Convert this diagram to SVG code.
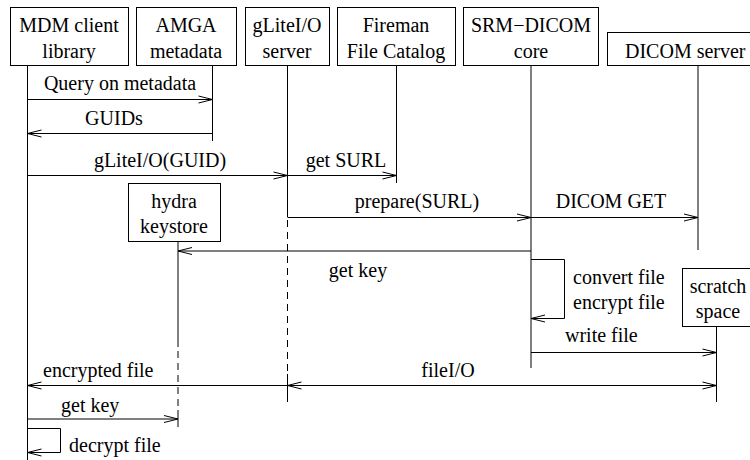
<svg xmlns="http://www.w3.org/2000/svg" width="750" height="460" viewBox="0 0 750 460" font-family="Liberation Serif, Times New Roman, DejaVu Serif, serif" font-size="20">
<style>
text{font-family:'Liberation Serif','Times New Roman','DejaVu Serif',serif;font-size:20px;fill:#000}
.c{text-anchor:middle}
.box{fill:#fff;stroke:#000;stroke-width:1}
.life{stroke:#000;stroke-width:1;fill:none}
.dash{stroke:#000;stroke-width:1;fill:none;stroke-dasharray:7 5}
.msg{stroke:#000;stroke-width:1;fill:none;marker-end:url(#ah)}
.both{stroke:#000;stroke-width:1;fill:none;marker-end:url(#ah);marker-start:url(#ah)}
</style>
<defs>
<marker id="ah" viewBox="-15 -5 16 10" refX="0" refY="0" markerWidth="16" markerHeight="10" markerUnits="userSpaceOnUse" orient="auto-start-reverse">
<path d="M-14,-3.5 L0,0 L-14,3.5" fill="none" stroke="#000" stroke-width="1"/>
</marker>
</defs>
<rect width="750" height="460" fill="#fff"/>

<g id="mdm">
<line class="life" x1="27.5" y1="66" x2="27.5" y2="460"/>
<rect class="box" x="10.5" y="7.5" width="118" height="58"/>
<text class="c" x="69" y="32">MDM client</text>
<text class="c" x="69" y="58">library</text>
</g>
<g id="amga">
<line class="life" x1="212.5" y1="66" x2="212.5" y2="141"/>
<rect class="box" x="136.5" y="7.5" width="100" height="58"/>
<text class="c" x="186" y="32">AMGA</text>
<text class="c" x="186" y="58">metadata</text>
</g>
<g id="glite">
<line class="life" x1="287.5" y1="66" x2="287.5" y2="217"/>
<line class="dash" x1="287.5" y1="220" x2="287.5" y2="372"/>
<line class="life" x1="287.5" y1="374" x2="287.5" y2="402"/>
<rect class="box" x="245.5" y="7.5" width="84" height="58"/>
<text class="c" x="287" y="32">gLiteI/O</text>
<text class="c" x="287" y="58">server</text>
</g>
<g id="fireman">
<line class="life" x1="396.5" y1="66" x2="396.5" y2="183"/>
<rect class="box" x="337.5" y="7.5" width="118" height="58"/>
<text class="c" x="396" y="32">Fireman</text>
<text class="c" x="396" y="58">File Catalog</text>
</g>
<g id="srm">
<line class="life" x1="531" y1="66" x2="531" y2="368"/>
<rect class="box" x="463.5" y="7.5" width="135" height="58"/>
<text class="c" x="531" y="32">SRM−DICOM</text>
<text class="c" x="531" y="58">core</text>
</g>
<g id="dicom">
<line class="life" x1="698" y1="66" x2="698" y2="250"/>
<rect class="box" x="607.5" y="32.5" width="160" height="33"/>
<text x="625" y="58">DICOM server</text>
</g>
<g id="hydra">
<line class="life" x1="178" y1="242" x2="178" y2="347"/>
<line class="dash" x1="178" y1="351" x2="178" y2="408"/>
<line class="life" x1="178" y1="410" x2="178" y2="427"/>
<rect class="box" x="128.5" y="183.5" width="92" height="58"/>
<text class="c" x="174" y="208">hydra</text>
<text class="c" x="174" y="233">keystore</text>
</g>
<g id="scratch">
<line class="life" x1="716.5" y1="327" x2="716.5" y2="402"/>
<rect class="box" x="682.5" y="268.5" width="80" height="58"/>
<text class="c" x="718" y="293">scratch</text>
<text class="c" x="718" y="318">space</text>
</g>

<g id="connectors">
<line class="msg" x1="27.5" y1="99.5" x2="212.5" y2="99.5"/>
<text class="c" x="120" y="90">Query on metadata</text>
<line class="msg" x1="212.5" y1="133.5" x2="27.5" y2="133.5"/>
<text class="c" x="114" y="125">GUIDs</text>
<line class="msg" x1="27.5" y1="175.5" x2="287.5" y2="175.5"/>
<text class="c" x="160" y="167">gLiteI/O(GUID)</text>
<line class="msg" x1="287.5" y1="175.5" x2="396.5" y2="175.5"/>
<text class="c" x="346" y="167">get SURL</text>
<line class="msg" x1="287.5" y1="217.5" x2="531" y2="217.5"/>
<text class="c" x="417" y="208">prepare(SURL)</text>
<line class="msg" x1="531" y1="217.5" x2="698" y2="217.5"/>
<text class="c" x="611" y="208">DICOM GET</text>
<line class="msg" x1="531" y1="251" x2="178" y2="251"/>
<text class="c" x="358" y="277">get key</text>
<path class="msg" d="M531,259.5 H564.5 V318.5 H531"/>
<text x="573" y="284">convert file</text>
<text x="573" y="309">encrypt file</text>
<line class="msg" x1="531" y1="352.5" x2="716.5" y2="352.5"/>
<text x="565" y="342">write file</text>
<line class="both" x1="287.5" y1="385.5" x2="716.5" y2="385.5"/>
<text class="c" x="448" y="377">fileI/O</text>
<line class="msg" x1="287.5" y1="385.5" x2="27.5" y2="385.5"/>
<text x="43" y="377">encrypted file</text>
<line class="msg" x1="27.5" y1="419" x2="178" y2="419"/>
<text x="61" y="412">get key</text>
<path class="msg" d="M27.5,428.5 H60.5 V452.5 H27.5"/>
<text x="69" y="452">decrypt file</text>
</g>
</svg>
